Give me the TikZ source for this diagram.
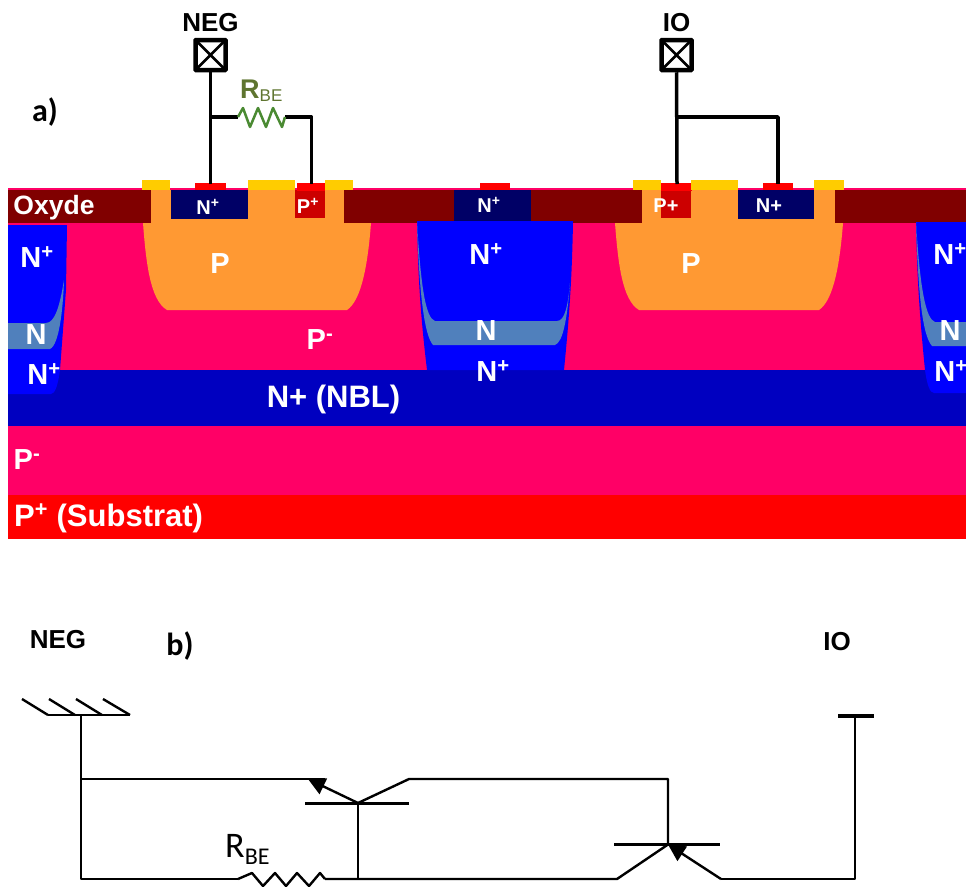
\documentclass[tikz,border=0pt]{standalone}
\usepackage{fontspec}
\setmainfont{Liberation Sans}
\newfontfamily\calibrifont{Carlito}
\usetikzlibrary{shapes,arrows.meta,positioning,calc}
\definecolor{pinklayer}{HTML}{FF0066}
\definecolor{nbllayer}{HTML}{0000C0}
\definecolor{oxydelayer}{HTML}{800000}
\definecolor{orangewell}{HTML}{FF9933}
\definecolor{navydiff}{HTML}{000066}
\definecolor{reddiff}{HTML}{CC0000}
\definecolor{metalgold}{HTML}{FFCC00}
\definecolor{nsteel}{HTML}{5080BC}
\definecolor{rgreen}{HTML}{4A8A32}
\definecolor{rtext}{HTML}{5F7530}
\newcommand{\nplus}{N\textsuperscript{+}}
\newcommand{\pplus}{P\textsuperscript{+}}
\newcommand{\pminus}{P\textsuperscript{-}}

\begin{document}
\begin{tikzpicture}[
    x=1pt, y=-1pt,
    biglabel/.style={text=white, inner sep=0pt, font=\bfseries\fontsize{29}{29}\selectfont},
    midlabel/.style={text=white, inner sep=0pt, font=\bfseries\fontsize{31}{31}\selectfont},
    smalllabel/.style={text=white, inner sep=0pt, font=\bfseries\fontsize{20}{20}\selectfont},
    title/.style={text=black, inner sep=0pt, font=\bfseries\fontsize{26}{26}\selectfont},
    partlabel/.style={text=black, inner sep=0pt, font=\calibrifont\bfseries\fontsize{32}{32}\selectfont},
    pad/.style={rectangle, draw, line width=4.5pt, minimum size=30pt, inner sep=0pt, rounded corners=0.5pt,
        path picture={\draw[line width=2.5pt] (path picture bounding box.north west) -- (path picture bounding box.south east)
            (path picture bounding box.north east) -- (path picture bounding box.south west);}},
    metal/.style={line width=3.5pt, line join=round},
    wire/.style={line width=2.4pt, line join=round},
    earrow/.style={wire, -{Triangle[length=17pt,width=17pt]}}
]
    \clip (0,0) rectangle (966,886);

    % Substrate layers
    \fill[red] (8,495) rectangle (966,539);
    \fill[pinklayer] (8,426) rectangle (966,495);
    \fill[nbllayer] (8,370) rectangle (966,426);
    \fill[pinklayer] (8,188) rectangle (966,370);

    % Oxide
    \fill[oxydelayer] (8,190) rectangle (966,223);

    % N+ sinkers
    \fill[blue] (8,225) -- (67,225) -- (66,290) -- (60,370) .. controls (58,385) and (55,394) .. (51,394) -- (8,394) -- cycle;
    \fill[blue] (417,221) .. controls (418,280) and (421,320) .. (427,370) -- (564,370) .. controls (569,320) and (572,280) .. (573,221) -- cycle;
    \fill[blue] (916,222) .. controls (917,280) and (920,320) .. (925,370) .. controls (927,385) and (930,393) .. (934,393) -- (966,393) -- (966,222) -- cycle;

    % N layers
    \fill[nsteel] (8,323) -- (46,323) .. controls (55,323) and (60,305) .. (64,280) .. controls (63,310) and (59,345) .. (50,349) -- (8,349) -- cycle;
    \fill[nsteel] (417,222) .. controls (419,290) and (424,335) .. (433,345) -- (555,345) .. controls (563,342) and (567,320) .. (570,283) .. controls (568,305) and (565,321) .. (557,321) -- (435,321) .. controls (426,318) and (421,290) .. (417,222) -- cycle;
    \fill[nsteel] (916,222) .. controls (918,290) and (922,335) .. (932,346) -- (966,346) -- (966,322) -- (935,322) .. controls (926,319) and (920,290) .. (916,222) -- cycle;

    % P wells
    \fill[orangewell] (143,223) .. controls (146,262) and (150,300) .. (167,310) -- (347,310) .. controls (362,300) and (368,262) .. (371,223) -- cycle;
    \fill[orangewell] (151,190) rectangle (344,224);
    \fill[orangewell] (615,223) .. controls (618,262) and (622,300) .. (639,310) -- (819,310) .. controls (834,300) and (840,262) .. (843,223) -- cycle;
    \fill[orangewell] (642,190) rectangle (835,224);

    % Diffusions
    \fill[navydiff] (171,190) rectangle (248,219);
    \fill[reddiff] (295,190) rectangle (325,218);
    \fill[navydiff] (454,190) rectangle (531,221);
    \fill[reddiff] (661,190) rectangle (691,218);
    \fill[navydiff] (738,190) rectangle (814,219);

    % Contacts
    \fill[red] (195,183) rectangle (226,190);
    \fill[red] (297,183) rectangle (325,191);
    \fill[red] (480,183) rectangle (510,190);
    \fill[red] (661,183) rectangle (692,191);
    \fill[red] (763,183) rectangle (793,190);
    \fill[metalgold] (142,180) rectangle (170,190);
    \fill[metalgold] (248,180) rectangle (295,190);
    \fill[metalgold] (325,180) rectangle (353,190);
    \fill[metalgold] (633,180) rectangle (661,190);
    \fill[metalgold] (691,180) rectangle (738,190);
    \fill[metalgold] (814,180) rectangle (844,190);

    % Layer labels
    \node[text=white, inner sep=0pt, font=\bfseries\fontsize{26.5}{26.5}\selectfont] (oxyde) at (54,208) {Oxyde};
    \node[biglabel] (nleft) at (37,257) {\nplus};
    \node[biglabel] (nleftb) at (36,335) {N};
    \node[biglabel] (nleftc) at (44,374) {\nplus};
    \node[biglabel] (pwella) at (220,264) {P};
    \node[biglabel] (pwellb) at (691,264) {P};
    \node[biglabel] (pmid) at (320,340) {\pminus};
    \node[biglabel] (nmid) at (486,254) {\nplus};
    \node[biglabel] (nmidb) at (486,331) {N};
    \node[biglabel] (nmidc) at (493,371) {\nplus};
    \node[biglabel] (nright) at (950,254) {\nplus};
    \node[biglabel] (nrightb) at (950,331) {N};
    \node[biglabel] (nrightc) at (951,371) {\nplus};
    \node[midlabel] (nbl) at (333.5,399) {N+ (NBL)};
    \node[biglabel] (plow) at (27,460) {\pminus};
    \node[midlabel, anchor=west] (subst) at (14,518) {\pplus{} (Substrat)};
    \node[smalllabel] (ndiffa) at (208,207) {\nplus};
    \node[smalllabel] (pdiffa) at (308,206) {\pplus};
    \node[smalllabel] (ndiffb) at (489,205) {\nplus};
    \node[smalllabel] (pdiffb) at (666,206) {P+};
    \node[smalllabel] (ndiffc) at (769,206) {N+};

    % Pads
    \node[pad] (negpad) at (210.5,55) {};
    \node[pad] (iopad) at (676.5,55) {};
    \node[title, above=6pt of negpad] (neg) {NEG};
    \node[title, above=6pt of iopad] (io) {IO};
    \node[partlabel] (parta) at (45,112) {a)};

    % Wiring on top
    \coordinate (negc) at (210.5,184);
    \coordinate (negj) at (210.5,117);
    \coordinate (rea) at (238,117);
    \coordinate (reb) at (285,117);
    \coordinate (rec) at (311.5,117);
    \coordinate (ped) at (311.5,184);
    \coordinate (ioc) at (677,184);
    \coordinate (ioj) at (677,117);
    \coordinate (iok) at (778,117);
    \coordinate (ned) at (778,184);
    \draw[metal] (negpad) -- (negc);
    \draw[metal] (negj) -- (rea);
    \draw[metal] (reb) -- (rec) -- (ped);
    \draw[metal] (iopad) -- (ioc);
    \draw[metal] (ioj) -- (iok) -- (ned);
    \draw[rgreen, line width=2.5pt, line join=round] (rea) -- (243,108) -- (250,127) -- (258,108) -- (266,127) -- (273,108) -- (282,127) -- (reb);
    \node[inner sep=0pt, text=rtext, anchor=base west] (rbetop) at (240,98) {\fontsize{27}{27}\selectfont\bfseries R\raisebox{-0.12em}{\fontsize{17}{17}\selectfont\mdseries BE}};

    % Circuit labels
    \node[title] (negb) at (58,640) {NEG};
    \node[title] (iob) at (837,642) {IO};
    \node[partlabel] (partb) at (180,646) {b)};
    \node[inner sep=0pt, anchor=base west] (rbelow) at (225,857) {\calibrifont\fontsize{36}{36}\selectfont R\raisebox{-0.2em}{\fontsize{24}{24}\selectfont BE}};

    % Circuit points
    \coordinate (gnd) at (81,715);
    \coordinate (gnda) at (48,715);
    \coordinate (gndb) at (130,715);
    \coordinate (ebranch) at (81,779);
    \coordinate (corner) at (81,879);
    \coordinate (eone) at (325,779);
    \coordinate (tipone) at (308,779);
    \coordinate (baseone) at (358,803);
    \coordinate (barl) at (305,803.5);
    \coordinate (barr) at (409,803.5);
    \coordinate (cone) at (409,779);
    \coordinate (ctop) at (668,779);
    \coordinate (basetwo) at (668,844.5);
    \coordinate (barla) at (614,844.5);
    \coordinate (barra) at (720,844.5);
    \coordinate (ctwo) at (617,879);
    \coordinate (etwo) at (721,879);
    \coordinate (botbase) at (358,879);
    \coordinate (rla) at (238,879);
    \coordinate (rlb) at (325,879);
    \coordinate (iocorner) at (855,879);
    \coordinate (iotop) at (855,716);
    \coordinate (iobara) at (838,716);
    \coordinate (iobarb) at (874,716);

    % Ground symbol
    \draw[wire] (gnda) -- (gndb);
    \draw[wire] (22,699) -- (gnda);
    \draw[wire] (49,699) -- (75,715);
    \draw[wire] (76,699) -- (102,715);
    \draw[wire] (103,699) -- (gndb);

    % Connections
    \draw[wire] (gnd) -- (corner) -- (rla);
    \draw[wire] (ebranch) -- (eone);
    \draw[earrow] (baseone) -- (tipone);
    \draw[wire] (barl) -- (barr);
    \draw[wire] (baseone) -- (cone) -- (ctop) -- (basetwo);
    \draw[wire] (baseone) -- (botbase);
    \draw[wire] (rlb) -- (ctwo) -- (basetwo);
    \draw[wire] (barla) -- (barra);
    \draw[earrow] (etwo) -- (basetwo);
    \draw[wire] (etwo) -- (iocorner) -- (iotop);
    \draw[line width=3.5pt] (iobara) -- (iobarb);
    \draw[wire] (rla) -- (252,873) -- (263,886) -- (275,873) -- (286,886) -- (297,873) -- (309,886) -- (320,873) -- (rlb);
\end{tikzpicture}
\end{document}
